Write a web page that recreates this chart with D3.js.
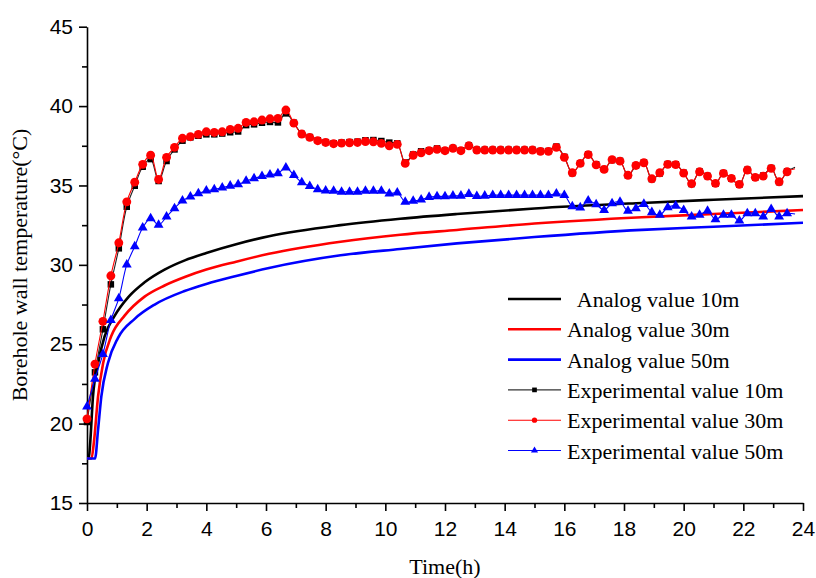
<!DOCTYPE html>
<html>
<head>
    <title>Borehole wall temperature</title>
    <script src="https://d3js.org/d3.v7.js"></script>
    <style>
        body { margin: 0; background: #fff; }
        svg text { font-family: "Liberation Serif", "Times New Roman", serif; }
        .tick text { font-family: "Liberation Sans", Arial, sans-serif; font-size: 21px; fill: #000; }
        .legend text { white-space: pre; }
    </style>
</head>
<body>
    <svg></svg>
    <script>
        // Data
        var sampleMinutes = 16;   // logging interval of the experiment

        var exp10 = [20.1, 23.23, 25.94, 28.77, 31.04, 33.66, 34.98, 36.18, 36.66, 35.28,
            36.54, 37.27, 37.82, 38.03, 38.13, 38.22, 38.22, 38.27, 38.35, 38.40,
            38.80, 38.85, 38.95, 39.00, 38.97, 39.54, 38.95, 38.25, 38.05, 37.85,
            37.73, 37.66, 37.70, 37.73, 37.76, 37.85, 37.86, 37.80, 37.70, 37.65,
            36.45, 36.95, 37.15, 37.22, 37.33, 37.20, 37.36, 37.22, 37.52, 37.25,
            37.25, 37.25, 37.25, 37.25, 37.25, 37.25, 37.25, 37.17, 37.17, 37.45,
            36.80, 35.78, 36.40, 36.96, 36.33, 36.03, 36.60, 36.55, 35.62, 36.24,
            36.45, 35.40, 35.76, 36.35, 36.33, 35.80, 35.09, 35.88, 35.60, 35.11,
            35.78, 35.43, 35.05, 35.99, 35.50, 35.62, 36.10, 35.21, 35.88, 36.15];

        var exp30 = [20.3, 23.75, 26.44, 29.31, 31.39, 33.97, 35.21, 36.33, 36.91, 35.38,
            36.77, 37.40, 37.97, 38.07, 38.22, 38.38, 38.34, 38.38, 38.53, 38.60,
            38.97, 39.01, 39.12, 39.20, 39.22, 39.75, 38.93, 38.24, 38.03, 37.82,
            37.71, 37.63, 37.67, 37.69, 37.71, 37.77, 37.75, 37.65, 37.50, 37.59,
            36.39, 36.90, 37.06, 37.19, 37.27, 37.19, 37.34, 37.19, 37.50, 37.23,
            37.23, 37.23, 37.23, 37.23, 37.23, 37.23, 37.23, 37.15, 37.15, 37.40,
            36.77, 35.80, 36.39, 36.94, 36.30, 36.01, 36.63, 36.53, 35.64, 36.26,
            36.43, 35.42, 35.80, 36.33, 36.31, 35.78, 35.11, 35.86, 35.59, 35.13,
            35.76, 35.45, 35.07, 35.97, 35.51, 35.59, 36.08, 35.23, 35.86, 36.05];

        var exp50 = [21.07, 22.81, 24.38, 26.52, 27.89, 30.01, 31.16, 32.34, 32.93, 32.51,
            33.03, 33.56, 34.04, 34.29, 34.50, 34.67, 34.75, 34.86, 34.98, 35.07,
            35.28, 35.45, 35.59, 35.68, 35.76, 36.12, 35.65, 35.19, 34.96, 34.75,
            34.67, 34.65, 34.60, 34.60, 34.60, 34.65, 34.65, 34.65, 34.48, 34.54,
            33.97, 34.02, 34.10, 34.27, 34.31, 34.31, 34.35, 34.35, 34.46, 34.33,
            34.35, 34.39, 34.39, 34.39, 34.39, 34.39, 34.39, 34.39, 34.39, 34.48,
            34.39, 33.68, 33.61, 34.04, 33.81, 33.45, 33.87, 33.97, 33.39, 33.56,
            33.83, 33.31, 33.14, 33.62, 33.72, 33.45, 33.03, 33.14, 33.39, 32.86,
            33.14, 33.14, 32.78, 33.24, 33.24, 33.03, 33.50, 33.03, 33.24, 33.20];

        var analogTime10 = [0, 0.06, 0.1, 0.2, 0.37, 0.59, 0.93, 1.4, 1.93, 2.6, 3.3, 4.0, 5.0, 6.1, 8.5, 10.5, 12.4, 15, 18.6, 21, 24];
        var analog10 = [17.8, 17.8, 18.6, 21.7, 23.8, 25.5, 26.8, 28.0, 28.9, 29.7, 30.3, 30.75, 31.3, 31.8, 32.5, 32.9, 33.2, 33.55, 33.9, 34.1, 34.33];

        var analogTime30 = [0, 0.15, 0.23, 0.37, 0.54, 0.81, 1.26, 1.93, 2.6, 3.3, 4.0, 5.0, 6.1, 8.5, 10.5, 12.4, 15, 18.6, 21, 24];
        var analog30 = [17.8, 17.8, 18.8, 21.7, 23.8, 25.5, 26.8, 28.0, 28.7, 29.25, 29.7, 30.2, 30.7, 31.46, 31.9, 32.2, 32.6, 33.0, 33.2, 33.45];

        var analogTime50 = [0, 0.27, 0.37, 0.48, 0.7, 1.04, 1.6, 2.27, 3.27, 4.0, 5.0, 6.1, 8.5, 10.5, 12.4, 15, 18.6, 21, 24];
        var analog50 = [17.8, 17.8, 19.6, 21.7, 23.8, 25.4, 26.6, 27.5, 28.35, 28.8, 29.3, 29.8, 30.6, 31.0, 31.35, 31.75, 32.2, 32.4, 32.65];

        var xTicks = [0, 2, 4, 6, 8, 10, 12, 14, 16, 18, 20, 22, 24];
        var yTicks = [15, 20, 25, 30, 35, 40, 45];

        var legendLabels = ["  Analog value 10m", "Analog value 30m", "Analog value 50m",
            "Experimental value 10m", "Experimental value 30m", "Experimental value 50m"];

        // Graph dimensions
        var width = 816, height = 578;
        var plotLeft = 87, plotRight = 803, plotTop = 26.7, plotBottom = 503;

        var svg = d3.select("svg").attr("width", width).attr("height", height);

        var x = d3.scaleLinear().domain([0, 24]).range([plotLeft, plotRight]);
        var y = d3.scaleLinear().domain([15, 45]).range([plotBottom, plotTop]);

        var expTime = exp30.map(function (d, i) { return i * sampleMinutes / 60; });

        // Axes with minor ticks
        var xMinor = d3.range(1, 24, 2);
        var yMinor = d3.range(17.5, 45, 5);

        svg.append("g").attr("transform", "translate(0," + plotBottom + ")")
            .call(d3.axisBottom(x).tickValues(xMinor).tickSize(5).tickFormat(""))
            .call(function (g) { g.select(".domain").remove(); });
        svg.append("g").attr("transform", "translate(" + plotLeft + ",0)")
            .call(d3.axisLeft(y).tickValues(yMinor).tickSize(5).tickFormat(""))
            .call(function (g) { g.select(".domain").remove(); });

        var xAxis = svg.append("g").attr("transform", "translate(0," + plotBottom + ")")
            .call(d3.axisBottom(x).tickValues(xTicks).tickSize(8).tickSizeOuter(0).tickPadding(7));
        var yAxis = svg.append("g").attr("transform", "translate(" + plotLeft + ",0)")
            .call(d3.axisLeft(y).tickValues(yTicks).tickSize(8).tickSizeOuter(0).tickPadding(6));

        svg.selectAll(".domain, .tick line").attr("stroke", "#000").attr("stroke-width", 1.6);
        xAxis.selectAll(".tick text").attr("dy", "0.85em");

        // Axis titles
        svg.append("text").attr("x", (plotLeft + plotRight) / 2).attr("y", 574)
            .attr("text-anchor", "middle").style("font-size", "22px").text("Time(h)");
        svg.append("text").attr("transform", "translate(27," + 265 + ") rotate(-90)")
            .attr("text-anchor", "middle").style("font-size", "22px")
            .text("Borehole wall temperature(\u00B0C)");

        // Analog curves
        function analogLine(times, vals, color) {
            var pts = vals.map(function (v, i) { return [times[i], v]; });
            svg.append("path").datum(pts)
                .attr("fill", "none").attr("stroke", color).attr("stroke-width", 2.6)
                .attr("d", d3.line().x(function (d) { return x(d[0]); })
                    .y(function (d) { return y(d[1]); }).curve(d3.curveMonotoneX));
        }
        analogLine(analogTime10, analog10, "#000");
        analogLine(analogTime30, analog30, "#ff0000");
        analogLine(analogTime50, analog50, "#0000ff");

        // Experimental series
        var symbols = { square: d3.symbolSquare, circle: d3.symbolCircle, triangle: d3.symbolTriangle };
        function expSeries(vals, lineColor, fill, sym, size) {
            var pts = vals.map(function (v, i) { return [expTime[i], v]; });
            svg.append("path").datum(pts)
                .attr("fill", "none").attr("stroke", lineColor).attr("stroke-width", 1.1)
                .attr("d", d3.line().x(function (d) { return x(d[0]); })
                    .y(function (d) { return y(d[1]); }).curve(d3.curveCatmullRom));
            svg.append("g").selectAll("path").data(pts.slice(0, pts.length - 1)).enter()
                .append("path")
                .attr("transform", function (d) { return "translate(" + x(d[0]) + "," + y(d[1]) + ")"; })
                .attr("d", d3.symbol().type(symbols[sym]).size(size))
                .attr("fill", fill);
        }
        expSeries(exp10, "#222", "#000", "square", 42);
        expSeries(exp30, "#ff0000", "#ff0000", "circle", 62);
        expSeries(exp50, "#0000ff", "#0000ff", "triangle", 42);

        // Legend
        var legendColors = ["#000", "#ff0000", "#0000ff", "#333", "#ff0000", "#0000ff"];
        var legendSym = [null, null, null, "square", "circle", "triangle"];
        var legend = svg.append("g").attr("class", "legend");
        legendLabels.forEach(function (label, i) {
            var cy = 299 + i * 30.3;
            var exp = legendSym[i] !== null;
            legend.append("line").attr("x1", 508).attr("x2", 561).attr("y1", cy).attr("y2", cy)
                .attr("stroke", legendColors[i]).attr("stroke-width", exp ? 1.1 : 2.6);
            if (exp) {
                legend.append("path").attr("transform", "translate(534.5," + cy + ")")
                    .attr("d", d3.symbol().type(symbols[legendSym[i]]).size(22))
                    .attr("fill", i === 3 ? "#000" : legendColors[i]);
            }
            legend.append("text").attr("x", 567).attr("y", cy + 8)
                .style("font-size", "22px").text(label);
        });
    </script>
</body>
</html>
